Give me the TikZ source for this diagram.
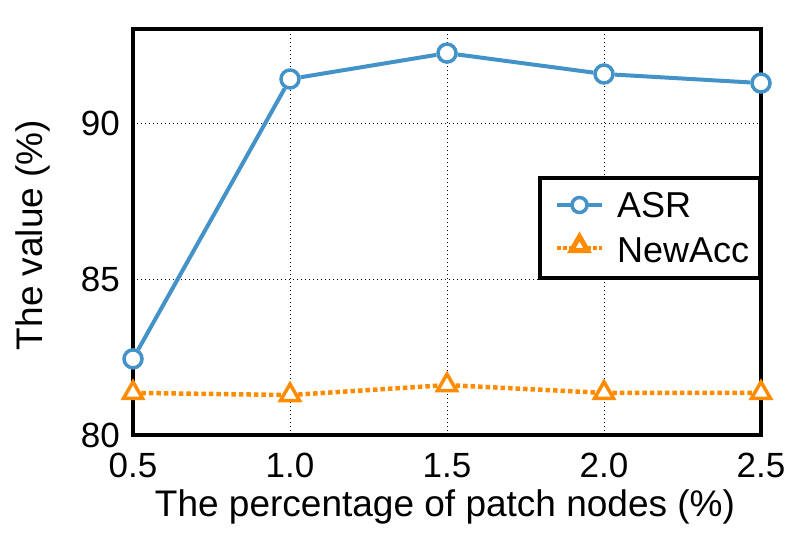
\documentclass[tikz,border=0pt]{standalone}
\usepackage{fontspec}
\setmainfont{Liberation Sans}
\usetikzlibrary{shapes.geometric}
\definecolor{asrblue}{RGB}{67,147,200}
\definecolor{accorange}{RGB}{255,140,0}
\tikzset{
  gridline/.style={black, line width=0.8pt, dash pattern=on 1.2pt off 2.8pt},
  frameline/.style={black, line width=4pt},
  asrline/.style={asrblue, line width=4pt},
  accline/.style={accorange, line width=4.5pt, dash pattern=on 4.5pt off 3pt},
  asrmark/.style={circle, draw=asrblue, line width=3.5pt, fill=white, inner sep=0pt, minimum size=18pt},
  accmark/.style={regular polygon, regular polygon sides=3, draw=accorange, line width=3.5pt, fill=white, inner sep=0pt, minimum size=22pt},
  ticklab/.style={font=\fontsize{35}{40}\selectfont, inner sep=0pt},
  axlab/.style={font=\fontsize{37}{42}\selectfont, inner sep=0pt},
  leglab/.style={font=\fontsize{36}{42}\selectfont, inner sep=0pt, anchor=base west}
}
\begin{document}
\begin{tikzpicture}
\useasboundingbox (0,0) rectangle (810pt,540pt);
\begin{scope}[shift={(133pt,105pt)}, x=314pt, y=31.2pt]
  % grid
  \foreach \gx in {0.5,1,1.5} \draw[gridline] (\gx,0) -- (\gx,13);
  \foreach \gy in {5,10} \draw[gridline] (0,\gy) -- (2,\gy);
  % frame
  \draw[frameline] (0,0) rectangle (2,13);
  % tick labels x
  \node[ticklab, anchor=base] (tx1) at (0,-1.35) {0.5};
  \node[ticklab, anchor=base] (tx2) at (0.5,-1.35) {1.0};
  \node[ticklab, anchor=base] (tx3) at (1,-1.35) {1.5};
  \node[ticklab, anchor=base] (tx4) at (1.5,-1.35) {2.0};
  \node[ticklab, anchor=base] (tx5) at (2,-1.35) {2.5};
  % tick labels y
  \node[ticklab, anchor=base east] (ty1) at (-0.041,-0.4) {80};
  \node[ticklab, anchor=base east] (ty2) at (-0.041,4.6) {85};
  \node[ticklab, anchor=base east] (ty3) at (-0.041,9.6) {90};
  % data
  \node[asrmark] (a1) at (0,2.44) {};
  \node[asrmark] (a2) at (0.5,11.41) {};
  \node[asrmark] (a3) at (1,12.24) {};
  \node[asrmark] (a4) at (1.5,11.57) {};
  \node[asrmark] (a5) at (2,11.28) {};
  \node[accmark] (b1) at (0,1.35) {};
  \node[accmark] (b2) at (0.5,1.28) {};
  \node[accmark] (b3) at (1,1.6) {};
  \node[accmark] (b4) at (1.5,1.35) {};
  \node[accmark] (b5) at (2,1.35) {};
  \draw[asrline] (a1) -- (a2) -- (a3) -- (a4) -- (a5);
  \draw[accline] (b1) -- (b2) -- (b3) -- (b4) -- (b5);
\end{scope}
% axis labels
\node[axlab, anchor=base] (xl) at (445pt,23pt) {The percentage of patch nodes (\%)};
\node[axlab, anchor=base, rotate=90] (yl) at (42pt,305pt) {The value (\%)};
% legend
\draw[frameline, fill=white] (540pt,262pt) rectangle (760pt,362pt);
\coordinate (la1) at (557pt,335pt);
\coordinate (la2) at (602pt,335pt);
\coordinate (lb1) at (557pt,292pt);
\coordinate (lb2) at (602pt,292pt);
\draw[asrline, line width=3.5pt] (la1) -- (la2);
\draw[accline, line width=3.5pt, dash pattern=on 3.5pt off 2.5pt] (lb1) -- (lb2);
\node[asrmark, minimum size=15pt] (lam) at (579.5pt,335pt) {};
\node[accmark, minimum size=19pt, line width=5pt] (lbm) at (579.5pt,294pt) {};
\node[leglab] (ltA) at (617pt,322pt) {ASR};
\node[leglab] (ltB) at (617pt,277pt) {NewAcc};
\end{tikzpicture}
\end{document}
